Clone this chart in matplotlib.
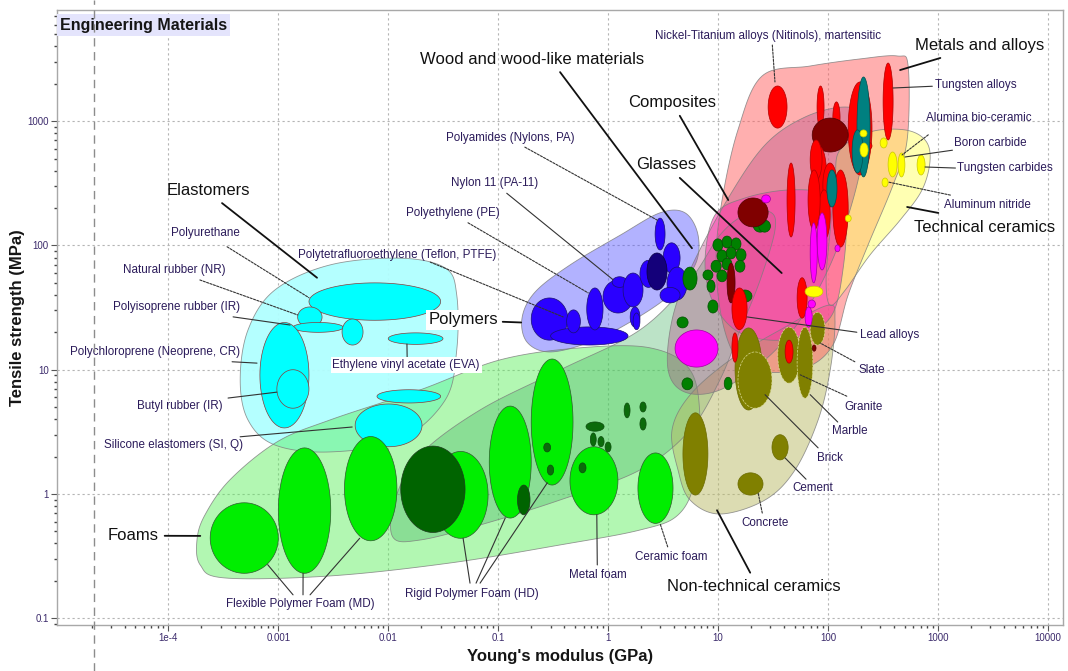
import numpy as np
import matplotlib
matplotlib.use("Agg")
import matplotlib.pyplot as plt
from matplotlib.patches import Polygon
from matplotlib.lines import Line2D
from matplotlib.transforms import blended_transform_factory

plt.rcParams["font.family"] = ["Liberation Sans", "DejaVu Sans"]

# ---------------------------------------------------------------------------
# Family envelopes: outline vertices (Young's modulus [GPa], tensile strength [MPa])
# ---------------------------------------------------------------------------
elastomers_env = [(4.5e-4, 8.3), (5.3e-4, 20.9), (9.3e-4, 43.8), (2.95e-3, 69.7), (0.0128, 79),
                  (0.033, 65.9), (0.042, 40), (0.042, 14.4), (0.033, 5.71), (0.0128, 2.72),
                  (2.95e-3, 2.18), (9.3e-4, 2.48), (5.3e-4, 3.94)]
foams_env = [(1.82e-4, 0.426), (1.95e-4, 0.268), (3.27e-4, 0.211), (2.95e-3, 0.219), (0.036, 0.278),
             (0.366, 0.389), (1.95, 0.513), (4.33, 0.678), (6.19, 1.30), (6.87, 3.94), (5.57, 9.96),
             (2.41, 15), (0.556, 15), (0.104, 12), (0.0194, 6.87), (2.95e-3, 3.94), (9.7e-4, 2.62),
             (3.63e-4, 1.30), (2.15e-4, 0.678)]
polymers_env = [(0.165, 26.1), (0.217, 42.2), (0.451, 69.7), (1.29, 121), (2.97, 183), (5.02, 183),
                (6.59, 121), (6.19, 69.7), (3.67, 40), (1.59, 24.2), (0.686, 16.7), (0.296, 13.9),
                (0.183, 16.7)]
wood_env = [(0.011, 0.451), (0.0115, 0.895), (0.0194, 2.06), (0.0684, 4.74), (0.366, 9.96),
            (1.95, 20.9), (5.57, 52.7), (10.4, 121), (17.6, 176), (29.8, 186), (33, 133),
            (24.2, 52.7), (15.9, 20.9), (10.4, 8.27), (5.57, 3.27), (1.95, 1.56), (0.366, 0.895),
            (0.0684, 0.563), (0.0194, 0.426)]
nontech_env = [(4.33, 1.56), (3.82, 3.27), (5.57, 6.26), (12.9, 12), (36.7, 20.9), (100, 33),
               (116, 25.1), (105, 9.96), (81.5, 3.94), (50.2, 1.56), (26.8, 0.895), (10.4, 0.69),
               (5.57, 0.895)]
metals_env = [(25.2, 2310), (68.9, 2780), (196, 3170), (426, 3350), (537, 2785), (526, 706),
              (392, 307), (232, 101), (153, 40), (111, 15.8), (62, 10.3), (26.8, 9.6), (15.2, 12),
              (10.9, 25.1), (9.6, 76.4), (10.9, 232), (15.2, 851)]
techceram_env = [(129, 588), (242, 819), (502, 851), (766, 706), (851, 488), (719, 280), (454, 160),
                 (242, 84), (144, 43.8), (105, 33), (96.3, 52.7), (105, 133), (116, 337)]
composites_env = [(3.52, 9.96), (3.82, 25.1), (5.57, 63.5), (12.1, 232), (26.8, 644), (62, 1080),
                  (144, 1300), (218, 1060), (205, 488), (159, 193), (105, 69.7), (55.9, 25.1),
                  (26.8, 12), (10.4, 6.87), (5.02, 6.6)]
glasses_env = [(7.63, 76.4), (9.41, 176), (17.6, 241), (45.3, 280), (105, 255), (144, 160),
               (137, 63.5), (109, 27.6), (62, 19.1), (29.8, 17.3), (14.3, 20.9), (8.84, 36.4)]

# ---------------------------------------------------------------------------
# Material bubbles: (E_min, E_max, strength_min, strength_max)
# ---------------------------------------------------------------------------
elastomer_bubbles = [(0.0019, 0.030, 25, 50), (0.0015, 0.0025, 22, 32), (0.00136, 0.0039, 20, 24),
                     (0.0038, 0.0059, 15.8, 25.6), (0.010, 0.0315, 16, 19.8),
                     (6.8e-4, 0.0019, 3.4, 24), (9.7e-4, 0.0019, 4.9, 10),
                     (0.005, 0.0203, 2.4, 5.3), (0.0079, 0.030, 5.4, 6.9)]
foam_bubbles = [(2.4e-4, 1.0e-3, 0.23, 0.85), (1.0e-3, 3.0e-3, 0.23, 2.35), (0.004, 0.012, 0.42, 2.9),
                (0.0256, 0.081, 0.44, 2.2), (0.083, 0.20, 0.64, 5.1), (0.2, 0.48, 1.18, 12.2),
                (0.45, 1.23, 0.68, 2.4), (1.87, 3.9, 0.58, 2.14)]
foam_dark_bubbles = [(0.013, 0.05, 0.49, 2.43), (0.15, 0.195, 0.68, 1.18)]
natural_dark_bubbles = [(0.26, 0.30, 2.18, 2.57), (0.28, 0.32, 1.42, 1.71), (0.545, 0.63, 1.48, 1.78),
                        (0.63, 0.92, 3.2, 3.8), (0.69, 0.78, 2.43, 3.1), (0.81, 0.92, 2.4, 2.9),
                        (0.94, 1.065, 2.18, 2.62), (1.40, 1.585, 4.1, 5.4), (1.95, 2.22, 3.27, 4.1),
                        (1.95, 2.22, 4.57, 5.5)]
wood_bubbles = [(4.8, 6.45, 43.8, 67), (7.3, 9.0, 52.7, 63.5), (7.95, 9.4, 42, 52.7),
                (8.1, 10, 28.6, 36.4), (4.24, 5.35, 21.7, 26.6), (15.2, 20.4, 35, 43.8),
                (4.7, 5.9, 6.9, 8.6), (11.4, 13.4, 6.9, 8.7), (20.9, 28, 128, 166),
                (23.5, 30, 128, 160), (9.0, 11.1, 90, 113), (10.9, 13.4, 95.5, 119),
                (13.2, 16.2, 92, 115), (9.8, 12.1, 73.6, 92), (11.9, 14.6, 78, 97),
                (14.6, 18, 75, 94), (8.65, 10.7, 61, 76), (10.9, 13.4, 63.5, 79),
                (14.3, 17.6, 61, 76), (9.8, 12.1, 51, 63.5)]
polymer_bubbles = [(0.20, 0.43, 17.3, 37.8), (0.30, 1.52, 15.8, 22.1), (0.42, 0.56, 19.8, 30.3),
                   (0.64, 0.90, 20.9, 45.5), (0.90, 1.69, 28.6, 52.7), (1.09, 1.49, 46, 56),
                   (1.37, 2.08, 32, 60), (1.59, 1.95, 22, 32), (2.68, 3.30, 92, 166),
                   (3.17, 4.52, 60, 105), (3.44, 5.23, 36.4, 67), (1.95, 2.79, 46, 76),
                   (2.97, 4.52, 34.5, 46), (1.69, 1.95, 21, 28.6)]
polymer_dark_bubbles = [(2.26, 3.44, 43.8, 87)]
nontech_bubbles = [(4.8, 8.1, 0.98, 4.5), (31, 43.5, 1.88, 3.0), (15.2, 25.7, 0.98, 1.48),
                   (14.3, 25.2, 4.74, 21.7), (15.2, 31, 4.9, 13.9), (35, 56, 7.8, 22),
                   (52.5, 73, 5.9, 22), (69, 94, 15.8, 29)]
metal_bubbles_back = [(28.6, 42.5, 880, 1920), (318, 392, 706, 2940), (79.7, 92.3, 880, 1920),
                      (111, 129, 804, 1430), (153, 252, 369, 2070)]
composite_bubbles = [(72, 153, 565, 1060), (15.2, 28.6, 141, 241), (81.5, 105, 290, 356),
                     (12.1, 14.3, 34.5, 72), (72, 78, 14.1, 15.8)]
metal_bubbles_front = [(42.5, 50.3, 117, 461), (73, 98, 183, 621), (90, 121, 204, 461),
                       (111, 153, 97, 405), (69, 88.5, 337, 706), (81.5, 105, 111, 280),
                       (177, 205, 405, 461), (209, 252, 588, 681), (52.5, 64.7, 26, 55),
                       (13.4, 18.4, 21, 45.5), (13.4, 15.2, 11.5, 19.8), (40.8, 48.2, 11.3, 17.3),
                       (66, 85, 133, 405)]
teal_bubbles = [(184, 242, 356, 2270), (166, 209, 383, 851), (98, 121, 204, 405)]
ceramic_bubbles = [(62, 90, 38.5, 47), (196, 227, 747, 851), (299, 346, 609, 733),
                   (353, 426, 356, 565), (435, 502, 356, 555), (648, 766, 369, 535),
                   (311, 353, 296, 349), (144, 163, 155, 176), (196, 232, 515, 668)]
glass_bubbles = [(4.07, 10, 10.5, 20.9), (69, 80, 50, 152), (80, 98, 63.5, 183), (62, 72, 22, 32),
                 (66, 77, 31.4, 36.4), (116, 129, 89, 101), (25, 30, 220, 255)]

# ---------------------------------------------------------------------------
# Labels
# ---------------------------------------------------------------------------
family_names = ["Elastomers", "Polymers", "Wood and wood-like materials", "Composites", "Glasses",
                "Metals and alloys", "Technical ceramics", "Non-technical ceramics", "Foams"]
family_targets = [(0.00225, 55), (0.162, 24), (5.8, 95), (12.4, 232), (38, 60), (454, 2580),
                  (526, 204), (9.8, 0.74), (1.95e-4, 0.46)]

material_names = ["Nickel-Titanium alloys (Nitinols), martensitic", "Tungsten alloys",
                  "Alumina bio-ceramic", "Boron carbide", "Tungsten carbides", "Aluminum nitride",
                  "Polyamides (Nylons, PA)", "Nylon 11 (PA-11)", "Polyethylene (PE)",
                  "Polytetrafluoroethylene (Teflon, PTFE)", "Polyurethane", "Natural rubber (NR)",
                  "Polyisoprene rubber (IR)", "Polychloroprene (Neoprene, CR)", "Butyl rubber (IR)",
                  "Silicone elastomers (SI, Q)", "Ethylene vinyl acetate (EVA)",
                  "Flexible Polymer Foam (MD)", "Rigid Polymer Foam (HD)", "Metal foam",
                  "Ceramic foam", "Concrete", "Cement", "Brick", "Marble", "Granite", "Slate",
                  "Lead alloys"]
material_targets = [[(33, 2070)], [(392, 1850)], [(473, 535)], [(502, 515)], [(766, 428)],
                    [(353, 324)], [(2.8, 160)], [(1.11, 53)], [(0.66, 41.5)], [(0.39, 26.6)],
                    [(0.0019, 38)], [(0.0015, 27.6)], [(0.00128, 22.9)], [(6.4e-4, 11.3)],
                    [(9.7e-4, 6.6)], [(0.0047, 3.46)], [(0.0148, 16.1)],
                    [(8e-4, 0.27), (0.00168, 0.23), (0.0055, 0.44)],
                    [(0.048, 0.44), (0.116, 0.64), (0.28, 1.23)],
                    [(0.79, 0.68)], [(2.97, 0.58)], [(23.2, 1.02)], [(40.8, 1.95)], [(26.8, 6.3)],
                    [(69, 6.3)], [(56, 9.1)], [(85, 16.4)], [(18.4, 26.6)]]

# layout of the label texts and leader starts (axes fraction)
family_text_pos = [(0.150, 0.707), (0.404, 0.496), (0.472, 0.919), (0.611, 0.849), (0.605, 0.748),
                   (0.9175, 0.943), (0.922, 0.647), (0.693, 0.063), (0.0755, 0.145)]
family_leader_start = [(0.164, 0.686), (0.443, 0.493), (0.500, 0.899), (0.619, 0.828),
                       (0.619, 0.727), (0.878, 0.922), (0.876, 0.670), (0.689, 0.085),
                       (0.107, 0.145)]
material_text_pos = [(0.707, 0.958), (0.9135, 0.878), (0.9165, 0.824), (0.928, 0.784),
                     (0.942, 0.743), (0.925, 0.683), (0.450, 0.792), (0.435, 0.719),
                     (0.393, 0.670), (0.338, 0.602), (0.148, 0.637), (0.117, 0.577),
                     (0.119, 0.517), (0.097, 0.444), (0.122, 0.356), (0.116, 0.293),
                     (0.347, 0.423), (0.2415, 0.034), (0.4125, 0.050), (0.538, 0.081),
                     (0.611, 0.111), (0.704, 0.166), (0.7515, 0.223), (0.768, 0.2715),
                     (0.788, 0.315), (0.802, 0.354), (0.810, 0.415), (0.828, 0.4715)]
material_leader_start = [[(0.711, 0.943)], [(0.870, 0.876)], [(0.866, 0.797)], [(0.890, 0.772)],
                         [(0.893, 0.743)], [(0.888, 0.699)], [(0.465, 0.777)], [(0.447, 0.702)],
                         [(0.4085, 0.654)], [(0.371, 0.590)], [(0.169, 0.615)], [(0.142, 0.561)],
                         [(0.175, 0.501)], [(0.174, 0.428)], [(0.170, 0.369)], [(0.182, 0.306)],
                         [(0.348, 0.436)],
                         [(0.2346, 0.049), (0.2445, 0.049), (0.2515, 0.049)],
                         [(0.4105, 0.068), (0.4165, 0.068), (0.4205, 0.068)],
                         [(0.537, 0.0976)], [(0.607, 0.127)], [(0.701, 0.182)], [(0.7445, 0.237)],
                         [(0.7565, 0.288)], [(0.776, 0.330)], [(0.785, 0.372)], [(0.793, 0.428)],
                         [(0.795, 0.476)]]
material_leader_dashed = [True, False, True, False, False, True, True, False, True, True, True,
                          True, False, False, False, False, False, False, False, False, True, True,
                          False, False, False, True, True, False]

x_ticks = [1e-4, 1e-3, 1e-2, 1e-1, 1, 10, 100, 1000, 10000]
x_tick_labels = ["1e-4", "0.001", "0.01", "0.1", "1", "10", "100", "1000", "10000"]
y_ticks = [0.1, 1, 10, 100, 1000]
y_tick_labels = ["0.1", "1", "10", "100", "1000"]


def smooth_closed(points, samples=18):
    """Closed Catmull-Rom curve through the vertices, built in log-log space."""
    p = np.log10(np.asarray(points, float))
    n = len(p)
    t = np.linspace(0, 1, samples, endpoint=False)[:, None]
    segs = []
    for i in range(n):
        p0, p1, p2, p3 = p[(i - 1) % n], p[i], p[(i + 1) % n], p[(i + 2) % n]
        segs.append(0.5 * (2 * p1 + (-p0 + p2) * t + (2 * p0 - 5 * p1 + 4 * p2 - p3) * t ** 2
                           + (-p0 + 3 * p1 - 3 * p2 + p3) * t ** 3))
    return 10 ** np.vstack(segs)


def bubble(e_lo, e_hi, s_lo, s_hi, n=80):
    """Ellipse spanning the property ranges on log-log axes."""
    lx = np.log10([e_lo, e_hi])
    ly = np.log10([s_lo, s_hi])
    t = np.linspace(0, 2 * np.pi, n, endpoint=False)
    x = 10 ** (lx.mean() + (lx[1] - lx[0]) / 2 * np.cos(t))
    y = 10 ** (ly.mean() + (ly[1] - ly[0]) / 2 * np.sin(t))
    return np.column_stack([x, y])


fig = plt.figure(figsize=(10.68, 6.71), dpi=100)
ax = fig.add_axes([0.0534, 0.0686, 0.942, 0.9165])
ax.set_xscale("log")
ax.set_yscale("log")
ax.set_xlim(9.7e-6, 1.38e4)
ax.set_ylim(0.0883, 7850)

# envelopes
envelopes = [
    (elastomers_env, "#b0ffff", 0.95),
    (foams_env, "#55ee55", 0.45),
    (polymers_env, "#5555ff", 0.45),
    (wood_env, "#40b060", 0.35),
    (nontech_env, "#bbbb66", 0.5),
    (metals_env, "#ff6060", 0.5),
    (techceram_env, "#ffff66", 0.5),
    (composites_env, "#b04080", 0.35),
    (glasses_env, "#ff33aa", 0.55),
]
for z, (verts, col, a) in enumerate(envelopes):
    pts = smooth_closed(verts)
    ax.add_patch(Polygon(pts, closed=True, facecolor=col, alpha=a, edgecolor="none", zorder=1 + z * 0.01))
    ax.add_patch(Polygon(pts, closed=True, facecolor="none", edgecolor="#7d7d7d", lw=0.6,
                         alpha=0.8, zorder=1.2))


def draw_bubbles(items, fc, ec="#5a2a2a", lw=0.5, z=3, ls="-"):
    for e_lo, e_hi, s_lo, s_hi in items:
        ax.add_patch(Polygon(bubble(e_lo, e_hi, s_lo, s_hi), closed=True, facecolor=fc,
                             edgecolor=ec, lw=lw, ls=ls, zorder=z))


draw_bubbles(elastomer_bubbles, "#00ffff", "#8a3b3b")
draw_bubbles(foam_bubbles, "#00ee00", "#2f5a2f")
draw_bubbles(foam_dark_bubbles, "#006400", "#1c3a1c", z=3.05)
draw_bubbles(natural_dark_bubbles, "#0b6b0b", "#0b4b0b", z=3.1)
draw_bubbles(wood_bubbles, "#008000", "#005000", z=3.1)
draw_bubbles(polymer_bubbles, "#2a00ff", "#1a1070")
draw_bubbles(polymer_dark_bubbles, "#14007a", "#0a0040", z=3.05)
draw_bubbles(nontech_bubbles[:4], "#808000", "#6a6a00")
draw_bubbles(nontech_bubbles[4:5], "#808000", "#d8d890", ls="--", z=3.02)
draw_bubbles(nontech_bubbles[5:], "#808000", "#d8d890", ls="--", z=3.02)
draw_bubbles(metal_bubbles_back, "#ff0000", "#b00000", z=3.2)
draw_bubbles(composite_bubbles, "#800000", "#500000", z=3.3)
draw_bubbles(metal_bubbles_front, "#ff0000", "#b00000", z=3.4)
draw_bubbles(teal_bubbles, "#008080", "#005050", z=3.45)
draw_bubbles(ceramic_bubbles, "#ffff00", "#c8c800", z=3.5)
draw_bubbles(glass_bubbles, "#ff00ff", "#a000a0", z=3.5)

# family labels with leaders
for name, pos, start, tgt in zip(family_names, family_text_pos, family_leader_start, family_targets):
    ax.annotate("", xy=tgt, xycoords="data", xytext=start, textcoords="axes fraction",
                arrowprops=dict(arrowstyle="-", color="#111111", lw=1.3, shrinkA=0, shrinkB=0),
                zorder=5)
    box = None
    if name == "Polymers":
        box = dict(boxstyle="square,pad=0.15", fc="white", ec="none")
    ax.text(pos[0], pos[1], name, transform=ax.transAxes, ha="center", va="center",
            fontsize=12, color="#111111", zorder=6, bbox=box)

# material labels with leaders
for name, pos, starts, tgts, dashed in zip(material_names, material_text_pos,
                                           material_leader_start, material_targets,
                                           material_leader_dashed):
    for s, tgt in zip(starts, tgts):
        ax.annotate("", xy=tgt, xycoords="data", xytext=s, textcoords="axes fraction",
                    arrowprops=dict(arrowstyle="-", color="#333333", lw=0.8,
                                    ls=(0, (2, 1.2)) if dashed else "-",
                                    shrinkA=0, shrinkB=0), zorder=5)
    box = None
    if name.startswith("Ethylene"):
        box = dict(boxstyle="square,pad=0.15", fc="white", ec="none")
    ax.text(pos[0], pos[1], name, transform=ax.transAxes, ha="center", va="center",
            fontsize=8.4, color="#2b1b5a", zorder=6, bbox=box)

# title tag
ax.text(0.003, 0.9756, "Engineering Materials", transform=ax.transAxes, ha="left", va="center",
        fontsize=11.5, fontweight="bold", color="#151515", zorder=7,
        bbox=dict(boxstyle="square,pad=0.2", fc="#e4e4fc", ec="none"))

# axes styling
ax.set_xticks(x_ticks)
ax.set_xticklabels(x_tick_labels)
ax.set_yticks(y_ticks)
ax.set_yticklabels(y_tick_labels)
ax.xaxis.set_minor_locator(matplotlib.ticker.LogLocator(base=10, subs=np.arange(2, 10), numticks=30))
ax.yaxis.set_minor_locator(matplotlib.ticker.LogLocator(base=10, subs=np.arange(2, 10), numticks=30))
ax.xaxis.set_minor_formatter(matplotlib.ticker.NullFormatter())
ax.yaxis.set_minor_formatter(matplotlib.ticker.NullFormatter())
ax.tick_params(which="major", direction="out", length=4, width=0.8, color="#555555",
               labelsize=7, labelcolor="#3b2a6b", pad=2)
ax.tick_params(which="minor", direction="out", length=2, width=1.0, color="#444444")
ax.grid(True, which="major", color="#b4b4b4", lw=0.8, ls=(0, (2, 2.5)), zorder=0)
ax.set_axisbelow(True)
for sp in ax.spines.values():
    sp.set_color("#a8a8a8")
    sp.set_linewidth(1.0)

# long dashed guide line through the whole figure
trans = blended_transform_factory(ax.transData, fig.transFigure)
fig.add_artist(Line2D([2.1e-5, 2.1e-5], [0, 1], transform=trans, color="#8c8c8c", lw=1.0,
                      ls=(0, (6, 4))))

fig.text(0.5243, 1 - 657 / 671, "Young's modulus (GPa)", ha="center", va="center",
         fontsize=12, fontweight="bold", color="#151515")
fig.text(18 / 1068, 1 - 318 / 671, "Tensile strength (MPa)", ha="center", va="center",
         rotation=90, fontsize=12, fontweight="bold", color="#151515")

fig.savefig("out.png", dpi=100)
